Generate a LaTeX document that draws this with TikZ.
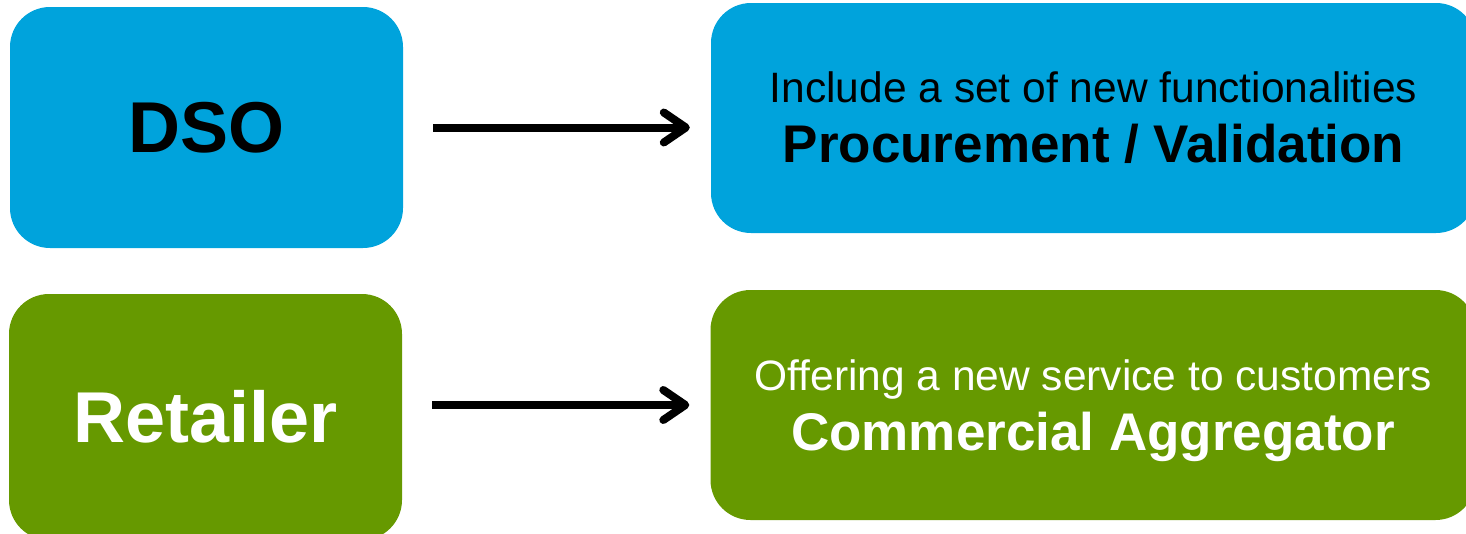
\documentclass[tikz,border=0pt]{standalone}
\usepackage{fontspec}
\setmainfont{Liberation Sans}
\usetikzlibrary{arrows.meta}
\definecolor{dsoblue}{RGB}{0,163,220}
\definecolor{retgreen}{RGB}{102,153,0}
\begin{document}
\begin{tikzpicture}[x=1pt,y=-1pt,
  box/.style={rectangle, rounded corners=40pt, inner sep=0pt, draw=none},
  leftbox/.style={box, minimum width=393pt, font=\fontsize{72}{80}\selectfont\bfseries},
  rightbox/.style={box, minimum width=765pt, minimum height=230pt},
  twoline/.style={align=center, inner sep=0pt, font=\fontsize{42.5}{60}\selectfont},
  flow/.style={line width=8pt, -{Straight Barb[length=22pt,width=30pt,round]}, shorten <=30pt, shorten >=21pt}]
\useasboundingbox (0,0) rectangle (1466,533);
\node[leftbox, fill=dsoblue, minimum height=241pt, text=black] (dso) at (206.5,127.5) {DSO};
\node[leftbox, fill=retgreen, minimum height=246pt, text=white] (ret) at (205.5,417) {Retailer};
\node[rightbox, fill=dsoblue] (proc) at (1093.5,118) {};
\node[twoline, text=black] (proctext) at (proc.center)
  {Include a set of new functionalities\\
   \fontsize{53}{60}\selectfont\bfseries Procurement / Validation};
\node[rightbox, fill=retgreen] (agg) at (1093,405) {};
\node[twoline, text=white] (aggtext) at ([yshift=-6pt]agg.center)
  {Offering a new service to customers\\
   \fontsize{53}{60}\selectfont\bfseries Commercial Aggregator};
\draw[flow] (dso.east) -- (dso.east -| proc.west);
\draw[flow] (agg.west -| ret.east) -- (agg.west);
\end{tikzpicture}
\end{document}
